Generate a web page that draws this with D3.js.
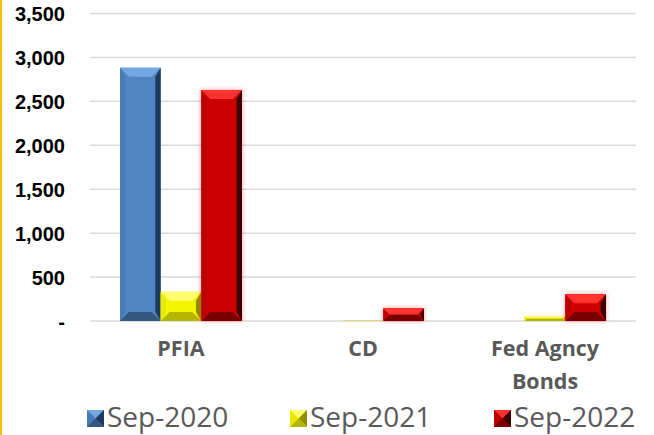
<!DOCTYPE html>
<html>
<head>
<meta charset="utf-8">
<script src="https://cdn.jsdelivr.net/npm/d3@7"></script>
<style>
  body { margin: 0; background: #fff; }
  svg { display: block; }
</style>
</head>
<body>
<div id="chart"></div>
<script>
var categories = ["PFIA", "CD", "Fed Agncy Bonds"];
var seriesNames = ["Sep-2020", "Sep-2021", "Sep-2022"];
var sep2020 = [2883, 0, 0];
var sep2021 = [333, 3, 58];
var sep2022 = [2629, 145, 305];
var yTicks = [0, 500, 1000, 1500, 2000, 2500, 3000, 3500];

var seriesValues = [sep2020, sep2021, sep2022];

// face colours: main, top, left, right, bottom
var palette = [
    { main: "#5085c4", top: "#74a6e2", left: "#4a7ab6", right: "#1f3a5e", bottom: "#33577f", glow: null },
    { main: "#f5f500", top: "#ffff70", left: "#e8e800", right: "#8f8f00", bottom: "#b5b500", glow: null },
    { main: "#cc0000", top: "#ff3030", left: "#bb0000", right: "#3a0000", bottom: "#7a0000", glow: "#ff4040" }
];

var svg = d3.select('#chart')
    .append('svg')
    .attr('width', 654)
    .attr('height', 435);

var margin = { top: 13.5, right: 18, bottom: 114, left: 90 };
var width = 654 - margin.left - margin.right;
var height = 435 - margin.top - margin.bottom;

var defs = svg.append("defs");
var glow = defs.append("filter").attr("id", "redGlow")
    .attr("x", "-30%").attr("y", "-30%").attr("width", "160%").attr("height", "160%");
glow.append("feGaussianBlur").attr("in", "SourceAlpha").attr("stdDeviation", 2.2).attr("result", "b");
glow.append("feFlood").attr("flood-color", "#ff3030").attr("flood-opacity", 0.5);
glow.append("feComposite").attr("in2", "b").attr("operator", "in").attr("result", "g");
var gm = glow.append("feMerge");
gm.append("feMergeNode").attr("in", "g");
gm.append("feMergeNode").attr("in", "SourceGraphic");

// left gold border
svg.append("rect")
    .attr("x", 0).attr("y", 0)
    .attr("width", 2).attr("height", 435)
    .attr("fill", "#ffc000");

var g = svg.append("g").attr("transform", "translate(" + margin.left + "," + margin.top + ")");

var x0 = d3.scaleBand()
    .domain(categories)
    .range([0, width])
    .paddingInner(0)
    .paddingOuter(0);

var x1 = d3.scaleBand()
    .domain(seriesNames)
    .range([x0.bandwidth() * 0.165, x0.bandwidth() * 0.835])
    .padding(0);

var y = d3.scaleLinear()
    .domain([0, 3500])
    .range([height, 0]);

// gridlines
g.append("g")
    .selectAll("line")
    .data(yTicks)
    .enter().append("line")
    .attr("x1", 0)
    .attr("x2", width)
    .attr("y1", function (d) { return y(d); })
    .attr("y2", function (d) { return y(d); })
    .attr("stroke", "#d9d9d9")
    .attr("stroke-width", 1.5);

// y axis labels
var yAxis = g.append("g")
    .call(d3.axisLeft(y)
        .tickValues(yTicks)
        .tickSize(0)
        .tickPadding(25)
        .tickFormat(function (d) { return d === 0 ? "-" : d3.format(",")(d); }));
yAxis.select(".domain").remove();
yAxis.selectAll("text")
    .attr("font-family", "'Liberation Sans', Arial, sans-serif")
    .attr("font-weight", "bold")
    .attr("font-size", "20px")
    .attr("fill", "#000")
    .attr("dy", "0.36em");

// bevelled bar shape
function bevelBar(sel, bx, by, bw, bh, col) {
    var b = Math.min(9, bh / 2, bw / 4);
    var xa = bx, xb = bx + bw, ya = by, yb = by + bh;
    function pts(a) { return a.map(function (p) { return p.join(","); }).join(" "); }
    var grp = sel.append("g");
    if (col.glow) grp.attr("filter", "url(#redGlow)");
    grp.append("rect").attr("x", xa).attr("y", ya).attr("width", bw).attr("height", bh).attr("fill", col.main);
    grp.append("polygon").attr("points", pts([[xa, ya], [xa + b * 0.6, ya + b], [xa + b * 0.6, yb - b], [xa, yb]])).attr("fill", col.left);
    grp.append("polygon").attr("points", pts([[xb, ya], [xb - b * 0.6, ya + b], [xb - b * 0.6, yb - b], [xb, yb]])).attr("fill", col.right);
    grp.append("polygon").attr("points", pts([[xa, ya], [xb, ya], [xb - b, ya + b], [xa + b, ya + b]])).attr("fill", col.top);
    grp.append("polygon").attr("points", pts([[xa, yb], [xa + b, yb - b], [xb - b, yb - b], [xb, yb]])).attr("fill", col.bottom);
}

var bars = g.append("g");
categories.forEach(function (c, ci) {
    seriesNames.forEach(function (s, si) {
        var v = seriesValues[si][ci];
        if (v <= 0) return;
        var bx = x0(c) + x1(s);
        var by = y(v);
        bevelBar(bars, bx, by, x1.bandwidth(), y(0) - by, palette[si]);
    });
});

// category labels
var xLabels = g.append("g")
    .selectAll("text")
    .data(categories)
    .enter().append("text")
    .attr("x", function (d) { return x0(d) + x0.bandwidth() / 2; })
    .attr("y", height + 35)
    .attr("text-anchor", "middle")
    .attr("font-family", "'Open Sans', sans-serif")
    .attr("font-weight", "bold")
    .attr("font-size", "21.5px")
    .attr("fill", "#595959");

xLabels.each(function (d) {
    var words = d === "Fed Agncy Bonds" ? ["Fed Agncy", "Bonds"] : [d];
    var t = d3.select(this);
    words.forEach(function (w, i) {
        t.append("tspan")
            .attr("x", t.attr("x"))
            .attr("dy", i === 0 ? 0 : 33)
            .text(w);
    });
});

// legend
var legendX = [87, 290, 494];
var legend = svg.append("g");
seriesNames.forEach(function (s, i) {
    var lg = legend.append("g").attr("transform", "translate(" + legendX[i] + ",410)");
    var col = palette[i];
    var sz = 17, m = sz / 2;
    lg.append("rect").attr("width", sz).attr("height", sz).attr("fill", col.main);
    lg.append("polygon").attr("points", "0,0 " + sz + ",0 " + m + "," + m).attr("fill", col.top);
    lg.append("polygon").attr("points", "0,0 0," + sz + " " + m + "," + m).attr("fill", col.left);
    lg.append("polygon").attr("points", sz + ",0 " + sz + "," + sz + " " + m + "," + m).attr("fill", col.right);
    lg.append("polygon").attr("points", "0," + sz + " " + sz + "," + sz + " " + m + "," + m).attr("fill", col.bottom);
    lg.append("text")
        .attr("x", 20)
        .attr("y", 16.5)
        .attr("font-family", "'Open Sans', sans-serif")
        .attr("font-size", "28px")
        .attr("fill", "#595959")
        .text(s);
});
</script>
</body>
</html>
